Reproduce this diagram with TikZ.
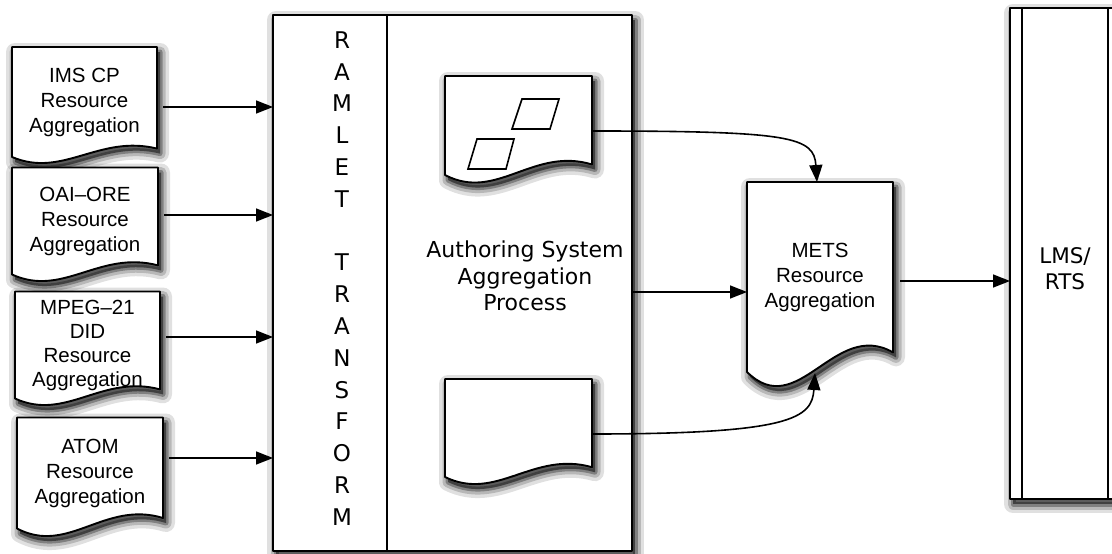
\documentclass[tikz,border=0pt]{standalone}
\usepackage{fontspec}
\setmainfont{Liberation Sans}
\newfontfamily\verdfont{DejaVu Sans}
\usetikzlibrary{positioning,calc,arrows.meta,backgrounds}

\tikzset{
  shadow layer/.style 2 args = {preaction={draw=black, fill=black, opacity=#1, line width=#2,
    line join=round, transform canvas={shift={(3pt,-5pt)}}}},
  shape line/.style = {draw=black, line width=1.9pt, fill=white, line join=round,
    shadow layer={0.12}{18pt}, shadow layer={0.18}{11pt}, shadow layer={0.3}{5pt}},
  plain line/.style = {draw=black, line width=1.9pt},
  doc/.style = {inner sep=0pt, outer sep=0pt, align=center, font=\fontsize{20.5}{25}\selectfont},
  box/.style = {inner sep=0pt, outer sep=0pt},
  arr/.style = {-{Triangle[length=17pt,width=13pt]}, line width=1.6pt},
}

% document outline with wavy bottom, drawn behind the node text
\newcommand\docoutline[2]{%
  \begin{pgfonlayer}{background}
    \draw[shape line] (#1.south west) -- (#1.north west) -- (#1.north east)
      -- ($(#1.south east)+(0,-0.7*#2)$)
      .. controls ($(#1.south west)!0.6!(#1.south east)+(0,-1.9*#2)$)
             and ($(#1.south west)!0.35!(#1.south east)+(0,1.8*#2)$) .. (#1.south west) -- cycle;
  \end{pgfonlayer}}

\begin{document}
\begin{tikzpicture}[x=1pt, y=-1pt]
  \useasboundingbox (0,0) rectangle (1112,554);

  % transform box
  \node[box, minimum width=359pt, minimum height=536pt] (ramlet) at (452.5,283) {};
  \begin{pgfonlayer}{background}
    \draw[shape line] (ramlet.north west) rectangle (ramlet.south east);
    \draw[plain line] ($(ramlet.north west)+(114,0)$) -- ($(ramlet.south west)+(114,0)$);
  \end{pgfonlayer}
  \foreach \ch/\row in {R/0,A/1,M/2,L/3,E/4,T/5,T/7,R/8,A/9,N/10,S/11,F/12,O/13,R/14,M/15}
    \node[inner sep=0pt, font=\verdfont\fontsize{23}{24}\selectfont] (ch\row) at (342,40+31.8*\row) {\ch};
  \node[align=center, font=\verdfont\fontsize{22}{26.5}\selectfont] (process) at (525,276)
    {Authoring System\\Aggregation\\Process};

  % documents inside the process
  \node[doc, minimum width=147pt, minimum height=99pt] (resA) at (518.5,125.5) {};
  \docoutline{resA}{15}
  \draw[plain line, line width=1.6pt] (522,99) -- (559,99) -- (550,129) -- (512,129) -- cycle;
  \draw[plain line, line width=1.6pt] (477,139) -- (514,139) -- (506,169) -- (468,169) -- cycle;
  \node[doc, minimum width=147pt, minimum height=98pt] (resB) at (518.5,428) {};
  \docoutline{resB}{14}

  % source aggregations
  \node[doc, minimum width=145pt, minimum height=110pt] (ims) at (84.5,102) {IMS CP\\Resource\\Aggregation};
  \docoutline{ims}{12}
  \node[doc, minimum width=146pt, minimum height=107pt] (oai) at (85,221) {OAI–ORE\\Resource\\Aggregation};
  \docoutline{oai}{13}
  \node[doc, minimum width=145pt, minimum height=107pt, font=\fontsize{20.5}{24}\selectfont] (mpeg) at (87.5,345)
    {MPEG–21\\DID\\Resource\\Aggregation};
  \docoutline{mpeg}{13}
  \node[doc, minimum width=146pt, minimum height=111pt] (atom) at (90,473) {ATOM\\Resource\\Aggregation};
  \docoutline{atom}{15}

  % result
  \node[doc, minimum width=146pt, minimum height=190pt] (mets) at (820,277) {METS\\Resource\\Aggregation};
  \docoutline{mets}{28}

  % target system
  \node[box, minimum width=110pt, minimum height=491pt] (lms) at (1065,253.5) {};
  \begin{pgfonlayer}{background}
    \draw[shape line] (lms.north west) rectangle (lms.south east);
    \draw[plain line] ($(lms.north west)+(12,0)$) -- ($(lms.south west)+(12,0)$);
    \draw[plain line] ($(lms.north east)+(-12,0)$) -- ($(lms.south east)+(-12,0)$);
  \end{pgfonlayer}
  \node[align=center, font=\verdfont\fontsize{21.5}{26}\selectfont] (lmstext) at (1065,269) {LMS/\\RTS};

  % connectors
  \foreach \doc/\dy in {ims/-5, oai/6, mpeg/8, atom/15}{
    \coordinate (\doc-out) at ([xshift=6pt, yshift=\dy pt]\doc.east);
    \draw[arr] (\doc-out) -- (\doc-out -| ramlet.west);
  }
  \coordinate (resA-out) at ([yshift=-5.5pt]resA.east);
  \coordinate (resB-out) at ([yshift=-6pt]resB.east);
  \draw[arr] (resA-out) .. controls +(200,0) and +(-3,-45) .. ([xshift=-3pt]mets.north);
  \draw[arr] (resB-out) .. controls +(200,0) and +(-3,45) .. ([xshift=-5pt, yshift=-1pt]mets.south);
  \coordinate (mets-in) at ([yshift=-15pt]mets.west);
  \draw[arr] (mets-in -| ramlet.east) -- (mets-in);
  \coordinate (mets-out) at ([xshift=7pt, yshift=-4pt]mets.east);
  \draw[arr] (mets-out) -- (mets-out -| lms.west);
\end{tikzpicture}
\end{document}
